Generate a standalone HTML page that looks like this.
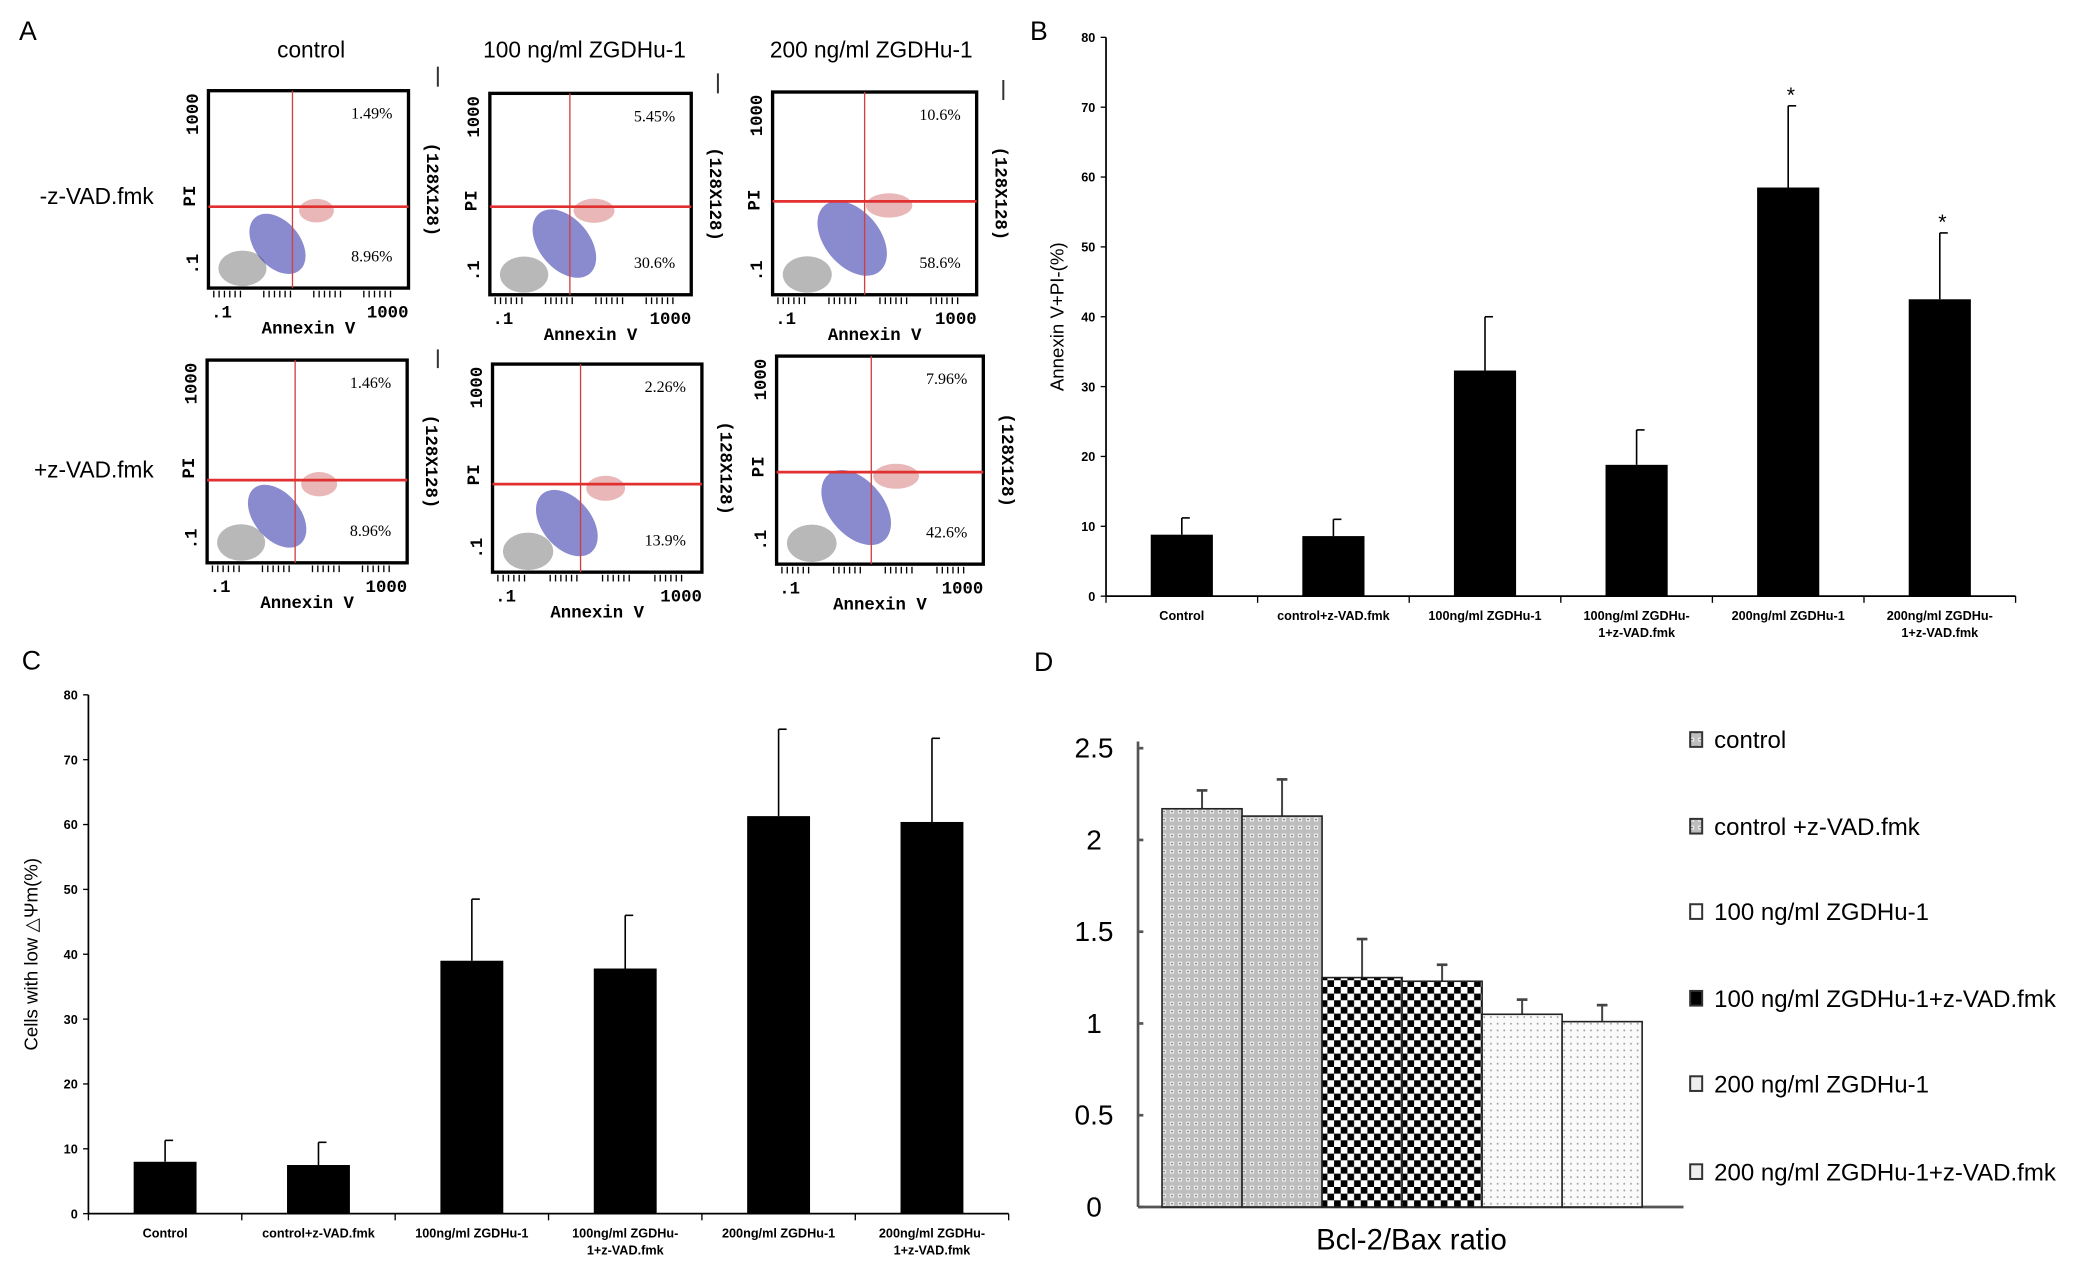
<!DOCTYPE html>
<html><head><meta charset="utf-8">
<style>
html,body{margin:0;padding:0;background:#fff;}
svg{display:block;font-family:"Liberation Sans",Arial,sans-serif;}
.mono{font-family:"Liberation Mono",monospace;font-weight:bold;}
</style></head>
<body>
<svg id="fig" width="2088" height="1271" viewBox="0 0 1565 953" xmlns="http://www.w3.org/2000/svg">
<defs>
<pattern id="patGrid" width="6" height="6" patternUnits="userSpaceOnUse">
<rect width="6" height="6" fill="#bdbdbd"/><rect x="1" y="1" width="3" height="3" fill="#eee"/><rect x="2" y="2" width="1" height="1" fill="#555"/>
</pattern>
<pattern id="patCheck" width="10" height="10" patternUnits="userSpaceOnUse">
<rect width="10" height="10" fill="#fff"/><rect width="5" height="5" fill="#000"/><rect x="5" y="5" width="5" height="5" fill="#000"/>
</pattern>
<pattern id="patDot" width="5" height="5" patternUnits="userSpaceOnUse">
<rect width="5" height="5" fill="#fafafa"/><rect x="2" y="2" width="1.2" height="1.2" fill="#999"/>
</pattern>
</defs>
<g id="panelA"></g>
<g id="panelB"></g>
<g id="panelC"></g>
<g id="panelD"></g>
</svg>
<script>
// ---------- data ----------
const barCategories = ["Control","control+z-VAD.fmk","100ng/ml ZGDHu-1","100ng/ml ZGDHu-|1+z-VAD.fmk","200ng/ml ZGDHu-1","200ng/ml ZGDHu-|1+z-VAD.fmk"];
const bValues = [8.8, 8.6, 32.3, 18.8, 58.5, 42.5];
const bErrors = [2.4, 2.4, 7.7, 5.0, 11.7, 9.5];
const bStars = [false,false,false,false,true,true];
const bTicks = [0,10,20,30,40,50,60,70,80];
const cValues = [8.0, 7.5, 39.0, 37.8, 61.3, 60.4];
const cErrors = [3.3, 3.5, 9.5, 8.2, 13.4, 12.9];
const cTicks = [0,10,20,30,40,50,60,70,80];
const dLabels = ["control","control +z-VAD.fmk","100 ng/ml ZGDHu-1","100 ng/ml ZGDHu-1+z-VAD.fmk","200 ng/ml ZGDHu-1","200 ng/ml ZGDHu-1+z-VAD.fmk"];
const dValues = [2.17, 2.13, 1.25, 1.23, 1.05, 1.01];
const dErrors = [0.10, 0.20, 0.21, 0.09, 0.08, 0.09];
const dTicks = [0,0.5,1,1.5,2,2.5];
const aColTitles = ["control","100 ng/ml ZGDHu-1","200 ng/ml ZGDHu-1"];
const aRowTitles = ["-z-VAD.fmk","+z-VAD.fmk"];
const aUR = ["1.49%","5.45%","10.6%","1.46%","2.26%","7.96%"];
const aLR = ["8.96%","30.6%","58.6%","8.96%","13.9%","42.6%"];

const NS="http://www.w3.org/2000/svg";
function mk(parent,tag,attrs,text){const e=document.createElementNS(NS,tag);for(const k in attrs)e.setAttribute(k,attrs[k]);if(text!==undefined)e.textContent=text;parent.appendChild(e);return e;}

// ---------- Panel A ----------
const A=document.getElementById('panelA');
let t;
t=mk(A,'text',{x:14,y:30,'font-size':20},'A');


const colX=[233,438,653];
aColTitles.forEach((s,i)=>{t=mk(A,'text',{x:colX[i],y:43,'font-size':17,'text-anchor':'middle'},s);

});
[[147,'-z-VAD.fmk'],[352,'+z-VAD.fmk']].forEach((r,i)=>{t=mk(A,'text',{x:115,y:r[0]+6,'font-size':17,'text-anchor':'end'},aRowTitles[i]);

});
[[328,50,65],[538,55,70],[752,60,75],[328,262,276]].forEach(m=>mk(A,'line',{x1:m[0],y1:m[1],x2:m[0],y2:m[2],stroke:'#333','stroke-width':1.5}));
const boxes=[[156,68,306,216,219,155],[367,70,518,221,427,155],[579,69,732,221,648,151],
[155,270,305,422,221,360],[369,273,526,429,435,363],[582,267,737,423,653,354]];
const spread=[0.45,0.7,0.9,0.5,0.55,0.85];
boxes.forEach((b,i)=>{
  const [x0,y0,x1,y1,vx,hy]=b;const g=mk(A,'g',{});
  
  
  const w=x1-x0,h=y1-y0,s=spread[i];
  // density clouds
  mk(g,'ellipse',{cx:x0+w*0.17,cy:y1-h*0.1,rx:w*0.12,ry:h*0.09,fill:'#333','fill-opacity':0.35});
  mk(g,'ellipse',{cx:x0+w*(0.3+0.1*s),cy:y1-h*(0.17+0.12*s),rx:w*(0.09+0.05*s),ry:h*(0.25+0.15*s)*0.55,fill:'#2a2aa8','fill-opacity':0.55,transform:`rotate(-40 ${x0+w*(0.3+0.1*s)} ${y1-h*(0.17+0.12*s)})`});
  mk(g,'ellipse',{cx:vx+w*0.12,cy:hy+h*0.02,rx:w*(0.06+0.06*s),ry:h*0.06,fill:'#c03030','fill-opacity':0.35});
  mk(g,'rect',{x:x0,y:y0,width:w,height:h,fill:'none',stroke:'#000','stroke-width':2.5});
  mk(g,'line',{x1:vx,y1:y0,x2:vx,y2:y1,stroke:'#d04040','stroke-width':1});
  mk(g,'line',{x1:x0,y1:hy,x2:x1,y2:hy,stroke:'#e03030','stroke-width':2});
  // ticks
  for(let k=0;k<4;k++){const tx=x0+4+k*(w/4);for(let j=0;j<6;j++)mk(g,'line',{x1:tx+j*4,y1:y1+2,x2:tx+j*4,y2:y1+7,stroke:'#000','stroke-width':1});}
  mk(g,'text',{x:x1-12,y:y0+21,'font-size':12,'text-anchor':'end','font-family':'Liberation Serif'},aUR[i]);
  mk(g,'text',{x:x1-12,y:y1-20,'font-size':12,'text-anchor':'end','font-family':'Liberation Serif'},aLR[i]);
  mk(g,'text',{x:x0+2,y:y1+22,'font-size':13,class:'mono'},'.1');
  mk(g,'text',{x:x1,y:y1+22,'font-size':13,class:'mono','text-anchor':'end'},'1000');
  mk(g,'text',{x:(x0+x1)/2,y:y1+34,'font-size':13,class:'mono','text-anchor':'middle'},'Annexin V');
  mk(g,'text',{x:0,y:0,'font-size':13,class:'mono','text-anchor':'middle',transform:`translate(${x0-10},${(y0+y1)/2+5}) rotate(-90)`},'PI');
  mk(g,'text',{x:0,y:0,'font-size':13,class:'mono','text-anchor':'end',transform:`translate(${x0-8},${y0+2}) rotate(-90)`},'1000');
  mk(g,'text',{x:0,y:0,'font-size':13,class:'mono','text-anchor':'middle',transform:`translate(${x0-8},${y1-18}) rotate(-90)`},'.1');
  mk(g,'text',{x:0,y:0,'font-size':13,class:'mono','text-anchor':'middle',transform:`translate(${x1+14},${(y0+y1)/2}) rotate(90)`},'(128X128)');
});

// ---------- bar chart helper (B, C) ----------
function blackBars(G,name,ax,ay0,ay1,xEnd,maxV,ticks,vals,errs,stars,title,titleX){
  const yS=v=>ay0-(v/maxV)*(ay0-ay1);
  const cw=(xEnd-ax)/vals.length;
  mk(G,'line',{x1:ax,y1:ay1,x2:ax,y2:ay0,stroke:'#000','stroke-width':1.3});
  mk(G,'line',{x1:ax,y1:ay0,x2:xEnd,y2:ay0,stroke:'#000','stroke-width':1.3});
  ticks.forEach(v=>{const y=yS(v);mk(G,'line',{x1:ax-4,y1:y,x2:ax,y2:y,stroke:'#000'});
    t=mk(G,'text',{x:ax-8,y:y+3.5,'font-size':9.5,'font-weight':'bold','text-anchor':'end'},v);
    
    });
  for(let i=0;i<=vals.length;i++)mk(G,'line',{x1:ax+i*cw,y1:ay0,x2:ax+i*cw,y2:ay0+5,stroke:'#000'});
  vals.forEach((v,i)=>{
    const cx=ax+cw*(i+0.5),bw=cw*0.41;
    const e=errs[i];
    mk(G,'line',{x1:cx,y1:yS(v),x2:cx,y2:yS(v+e),stroke:'#000','stroke-width':1.2});
    mk(G,'line',{x1:cx,y1:yS(v+e),x2:cx+6,y2:yS(v+e),stroke:'#000','stroke-width':1.2});
    const r=mk(G,'rect',{x:cx-bw/2,y:yS(v),width:bw,height:yS(0)-yS(v),fill:'#000'});
    
    
    if(stars&&stars[i]){t=mk(G,'text',{x:cx+2,y:yS(v+e)-3,'font-size':16,'text-anchor':'middle'},'*');
      
      }
    const parts=barCategories[i].split('|');
    parts.forEach((p,k)=>{t=mk(G,'text',{x:cx+(k?0:0),y:ay0+18+k*12.5,'font-size':9.5,'font-weight':'bold','text-anchor':'middle'},p);
      
      });
  });
  t=mk(G,'text',{x:0,y:0,'font-size':14,'text-anchor':'middle',transform:`translate(${titleX},${(ay0+ay1)/2}) rotate(-90)`},title);
  
  
}
const B=document.getElementById('panelB');
t=mk(B,'text',{x:772,y:30,'font-size':20},'B');


blackBars(B,'b',829,447,28,1511,80,bTicks,bValues,bErrors,bStars,'Annexin V+PI-(%)',797);
const C=document.getElementById('panelC');
t=mk(C,'text',{x:16,y:502,'font-size':20},'C');


blackBars(C,'c',66,910,521,756,80,cTicks,cValues,cErrors,null,'Cells with low \u25B3\u03A8m(%)',28);

// ---------- Panel D ----------
const D=document.getElementById('panelD');
t=mk(D,'text',{x:775,y:503,'font-size':20},'D');


const dx0=853,dy0=905,dy1=561,dMax=2.5;
const dY=v=>dy0-(v/dMax)*(dy0-dy1);
mk(D,'line',{x1:dx0,y1:dy1-5,x2:dx0,y2:dy0,stroke:'#555','stroke-width':2});
mk(D,'line',{x1:dx0,y1:dy0,x2:1262,y2:dy0,stroke:'#555','stroke-width':2});
dTicks.forEach(v=>{const y=dY(v);mk(D,'line',{x1:dx0,y1:y,x2:dx0+4,y2:y,stroke:'#555','stroke-width':2});
  t=mk(D,'text',{x:dx0-33,y:y+7,'font-size':21,'text-anchor':'middle'},v);
  
  });
const dFills=['url(#patGrid)','url(#patGrid)','url(#patCheck)','url(#patCheck)','url(#patDot)','url(#patDot)'];
const dStart=871,dBw=60;
dValues.forEach((v,i)=>{
  const x=dStart+i*dBw,e=dErrors[i],cx=x+dBw/2;
  mk(D,'line',{x1:cx,y1:dY(v),x2:cx,y2:dY(v+e),stroke:'#444','stroke-width':1.5});
  mk(D,'line',{x1:cx-4,y1:dY(v+e),x2:cx+4,y2:dY(v+e),stroke:'#444','stroke-width':2});
  const r=mk(D,'rect',{x:x,y:dY(v),width:dBw,height:dY(0)-dY(v),fill:dFills[i],stroke:'#222','stroke-width':1.2});
  
  
});
t=mk(D,'text',{x:1058,y:937,'font-size':22,'text-anchor':'middle'},'Bcl-2/Bax ratio');


const legY=[555,620,684,749,813,879];
const legFill=['url(#patGrid)','url(#patGrid)','#fff','#000','#eee','#eee'];
dLabels.forEach((s,i)=>{
  const g=mk(D,'g',{});
  
  
  mk(g,'rect',{x:1267,y:legY[i]-6,width:9,height:11,fill:legFill[i],stroke:'#333','stroke-width':1.5});
  mk(g,'text',{x:1285,y:legY[i]+6,'font-size':18},s);
});
</script>
</body></html>
